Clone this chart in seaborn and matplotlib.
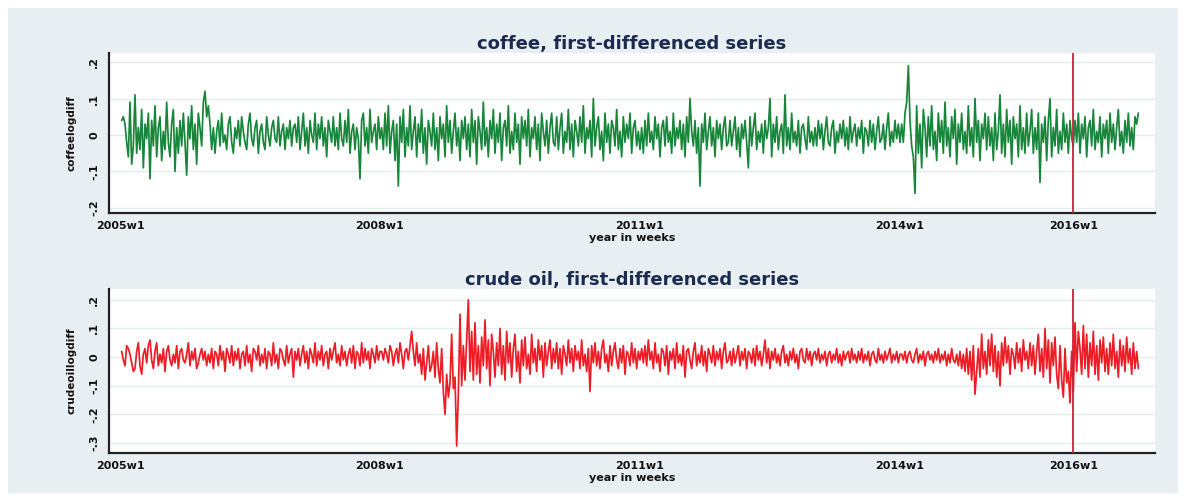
import numpy as np
import pandas as pd
import matplotlib
matplotlib.use("Agg")
import matplotlib.pyplot as plt
from matplotlib.patches import Rectangle
import seaborn as sns

# weekly first differences, in hundredths of a log point, one row per year
coffee_2005 = [4,5,3,-2,-6,9,-8,-3,11,-5,2,-4,7,-9,3,-1,6,-12,4,-3,8,-6,2,5,-7,1,-4,9,-2,-6,3,7,-10,2,-5,4,-3,6,-2,-11,5,-1,8,-4,3,-8,6,2,-3,9,12,5]
coffee_2006 = [8,3,-4,2,-5,1,4,-3,6,-2,0,-4,3,5,-2,-5,2,-1,4,-3,5,1,-2,-4,3,6,-1,-3,2,4,-5,1,3,-2,-4,5,0,-3,2,4,-1,-2,5,-3,1,3,-4,2,-1,4,-3,2]
coffee_2007 = [3,-2,5,-4,1,6,-3,2,-5,4,0,-2,6,-4,3,-1,5,-3,2,-6,4,1,-2,5,-3,2,-4,6,-1,-3,4,-2,7,-5,1,3,-4,2,-1,-12,4,6,-3,2,-5,7,-2,1,3,-4,5,-1]
coffee_2008 = [2,-4,6,-3,8,-5,1,4,-7,3,-14,5,-2,7,-6,2,-3,8,-4,1,5,-6,3,-2,7,-5,2,-8,4,1,-3,6,-4,2,-7,5,-1,3,-6,8,-2,4,-5,1,6,-3,2,-7,4,-1,5,-4]
coffee_2009 = [3,-6,7,-2,4,-8,5,1,-4,9,-3,2,-6,4,-1,7,-5,3,-2,6,-7,2,4,-3,8,-5,1,-4,6,-2,3,-8,5,-1,4,-3,7,-6,2,-1,5,-4,3,-7,6,1,-3,4,-5,2,6,-2]
coffee_2010 = [-3,5,-4,2,6,-5,1,-2,7,-4,3,-6,4,1,-3,5,-2,8,-5,2,-1,4,-6,10,-3,2,5,-4,1,-7,6,-2,3,-5,4,2,-3,7,-4,1,-6,5,-2,3,-1,6,-5,2,4,-3,1,-4]
coffee_2011 = [2,-5,4,-3,6,-2,1,-4,5,-1,3,-6,2,4,-3,5,-2,1,-5,6,-3,2,-1,4,-4,3,-6,5,-2,10,1,-3,4,-5,2,-14,3,-2,6,-4,1,5,-3,2,-6,4,-1,3,-4,2,5,-3]
coffee_2012 = [-2,4,-3,1,5,-4,2,-6,3,-1,4,-2,-9,5,-3,2,6,-4,1,-2,3,-5,4,-1,2,10,-6,3,-2,5,-4,1,3,-5,11,-3,2,-4,6,-2,1,-3,4,-5,2,3,-1,-4,5,-2,1,-3]
coffee_2013 = [2,-3,4,-1,3,-4,1,5,-2,-3,2,4,-5,1,-2,3,-1,4,-3,2,-4,5,-2,1,3,-3,2,-1,4,-5,2,1,-3,4,-2,3,-4,1,5,-2,-1,3,-4,2,6,-3,1,-2,4,-1,3,-2]
coffee_2014 = [3,-2,6,9,19,4,-3,-6,-16,8,-5,3,-9,7,2,-6,5,-3,8,-4,1,-7,6,-2,4,-5,9,-3,2,-6,5,-1,7,-8,3,-2,6,-4,1,-5,8,-3,2,-6,10,-2,4,-7,3,-1,6,-4]
coffee_2015 = [5,-3,2,-7,6,-4,1,11,-5,3,-6,7,-2,4,-8,5,-1,3,-6,8,-4,2,-5,6,-3,1,7,-5,2,-4,6,-13,3,-2,5,-7,4,10,-6,2,-3,7,-5,1,-4,6,-2,3,-5,4,-1,-3]
coffee_2016 = [4,-2,6,-5,3,-1,5,-6,2,4,-3,7,-4,1,-2,5,-6,3,-1,4,-5,6,-2,3,-4,2,7,-3,1,-5,4,-2,6,-3,2,-4,5,3,6]

oil_2005 = [2,-1,-3,4,3,1,-2,-5,-4,2,5,-3,-6,1,3,-2,4,6,-1,-4,2,5,-3,1,-2,3,-5,2,4,-1,-3,1,-2,4,-4,2,3,-1,-2,1,5,-3,2,-1,3,-4,-2,1,3,-1,2,-3]
oil_2006 = [1,-2,3,-4,2,1,-3,4,-1,2,-5,3,1,-2,4,-3,2,-1,3,-4,1,2,-3,4,-2,1,-5,3,2,-1,4,-3,1,-2,3,-4,2,1,-3,5,-2,1,-4,3,2,-1,-3,4,-2,1,3,-7]
oil_2007 = [2,-1,3,-3,1,4,-2,2,-4,3,1,-2,5,-3,2,-1,4,-3,1,2,-4,3,-1,2,5,-2,1,-3,4,-1,2,-3,1,3,-2,4,-4,2,1,-3,5,-2,3,-1,2,-4,3,1,-2,4,-1,2]
oil_2008 = [2,-1,3,1,-2,4,2,-3,1,3,-2,5,1,-4,2,3,-1,4,9,2,-3,5,-2,1,-6,3,-8,-2,4,-5,-3,2,-7,5,-4,-9,3,-12,-20,-6,-14,-9,8,-11,-7,-31,-13,15,-10,4,-8,6]
oil_2009 = [20,-5,9,-8,12,-6,4,-9,7,-3,13,-4,6,-10,8,2,-7,5,-3,10,-6,4,-8,9,-2,5,-7,3,8,-5,2,-9,6,-3,7,-4,1,-6,8,-2,3,-5,6,-1,4,-7,5,-3,2,6,-4,3]
oil_2010 = [-2,5,-4,3,-6,4,1,-3,6,-2,3,-5,4,-1,2,-4,6,-3,1,-5,3,-12,4,-2,5,-3,2,-4,3,6,-2,1,-5,4,-3,2,5,-1,-4,3,-2,4,-6,2,1,-3,5,-2,3,-4,2,-1]
oil_2011 = [3,-2,4,-3,6,-1,2,-4,5,-2,1,-5,3,2,-3,4,-6,2,-1,3,-4,5,-2,1,-3,4,-7,2,3,-1,-4,2,5,-3,1,-2,4,-3,2,-5,3,1,-2,4,-3,2,-1,3,-4,2,5,-2]
oil_2012 = [-1,2,-3,3,-2,1,4,-3,2,-1,3,-4,2,1,-2,3,-3,4,-1,2,-3,1,6,-2,3,-4,2,-1,3,-2,1,-3,2,4,-2,1,-3,2,-1,3,-2,1,-4,2,3,-1,-2,3,-1,2,-3,1]
oil_2013 = [2,-1,3,-2,1,-1,2,-3,1,2,-2,1,-1,3,-2,1,-3,2,-1,1,2,-2,3,-1,1,-2,2,-1,3,-2,1,-1,2,-3,1,2,-1,-2,3,-1,1,-2,2,-1,1,3,-2,1,-1,2,-2,1]
oil_2014 = [1,-1,2,-2,1,2,-1,-2,1,3,-2,1,-1,2,-3,1,2,-1,1,-2,2,-1,3,-2,1,-1,2,-3,1,-2,3,-1,-2,1,-3,2,-4,1,-5,3,-6,2,-8,4,-13,-5,3,-7,8,-4,2,-6]
oil_2015 = [6,-3,8,-5,4,-7,2,-10,5,-3,7,-2,4,-6,3,1,-4,5,-2,3,-5,6,-1,2,-4,5,-3,4,-6,2,8,-5,3,-7,10,-4,6,-9,5,-3,7,-6,-11,4,-8,-14,3,-9,-5,-16,2,-12]
oil_2016 = [12,-5,9,3,-6,11,-4,8,-7,5,-3,9,-6,4,-8,6,-2,7,-5,3,-6,5,-3,8,-4,2,-7,6,-3,4,-5,7,-2,3,-6,5,-4,2,-4]

tick_weeks = [0, 156, 312, 468, 572]
tick_labels = ["2005w1", "2008w1", "2011w1", "2014w1", "2016w1"]
break_week = 572

coffee_y_ticks = [-0.2, -0.1, 0, 0.1, 0.2]
coffee_y_labels = ["-.2", "-.1", "0", ".1", ".2"]
oil_y_ticks = [-0.3, -0.2, -0.1, 0, 0.1, 0.2]
oil_y_labels = ["-.3", "-.2", "-.1", "0", ".1", ".2"]

coffee = np.concatenate([coffee_2005, coffee_2006, coffee_2007, coffee_2008, coffee_2009, coffee_2010,
                         coffee_2011, coffee_2012, coffee_2013, coffee_2014, coffee_2015, coffee_2016]) / 100
oil = np.concatenate([oil_2005, oil_2006, oil_2007, oil_2008, oil_2009, oil_2010,
                      oil_2011, oil_2012, oil_2013, oil_2014, oil_2015, oil_2016]) / 100

df_c = pd.DataFrame({"week": np.arange(1, len(coffee) + 1), "value": coffee})
df_o = pd.DataFrame({"week": np.arange(1, len(oil) + 1), "value": oil})

sns.set_style("white")
plt.rcParams['font.family'] = ['DejaVu Sans']

bg = "#e8eff2"
fig = plt.figure(figsize=(11.86, 5.01), dpi=100, facecolor="white")
fig.patches.append(Rectangle((8 / 1186, 8 / 501), 1 - 16 / 1186, 1 - 16 / 501,
                             transform=fig.transFigure, facecolor=bg, edgecolor="none", zorder=-10))

W, H = 1186, 501
def axes_box(l, t, r, b):
    return [l / W, 1 - b / H, (r - l) / W, (b - t) / H]

ax1 = fig.add_axes(axes_box(109, 53, 1155, 213))
ax2 = fig.add_axes(axes_box(109, 289, 1155, 453))

panels = [
    (ax1, df_c, "#17863a", "coffee, first-differenced series", "coffeelogdiff",
     (-0.214, 0.225), coffee_y_ticks, coffee_y_labels),
    (ax2, df_o, "#ee1c25", "crude oil, first-differenced series", "crudeoillogdiff",
     (-0.335, 0.238), oil_y_ticks, oil_y_labels),
]

for ax, df, col, title, ylab, ylim, yt, ytl in panels:
    ax.set_facecolor("white")
    for y in yt:
        ax.axhline(y, color="#e4ecee", lw=1.0, zorder=0)
    sns.lineplot(data=df, x="week", y="value", ax=ax, color=col, lw=1.25, zorder=3)
    ax.axvline(break_week, color="#c8213f", lw=1.3, zorder=4)
    ax.set_xlim(-6.6, 621)
    ax.set_ylim(*ylim)
    ax.set_xticks(tick_weeks)
    ax.set_xticklabels(tick_labels, fontsize=8, fontweight="bold", color="#111111")
    ax.set_yticks(yt)
    ax.set_yticklabels(ytl, fontsize=8, fontweight="bold", rotation=90, va="center", color="#111111")
    ax.tick_params(axis="both", direction="out", length=4, width=1.2, color="#222222", pad=3)
    ax.tick_params(axis="x", pad=2)
    for s in ["top", "right"]:
        ax.spines[s].set_visible(False)
    for s in ["left", "bottom"]:
        ax.spines[s].set_color("#222222")
        ax.spines[s].set_linewidth(1.6)
    ax.set_title(title, fontsize=13, fontweight="bold", color="#1b2a4e", pad=3)
    ax.set_ylabel(ylab, fontsize=7.5, fontweight="bold", color="#111111", labelpad=9)
    ax.set_xlabel("year in weeks", fontsize=8, fontweight="bold", color="#111111", labelpad=1)

fig.savefig("out.png", dpi=100, facecolor=fig.get_facecolor())
